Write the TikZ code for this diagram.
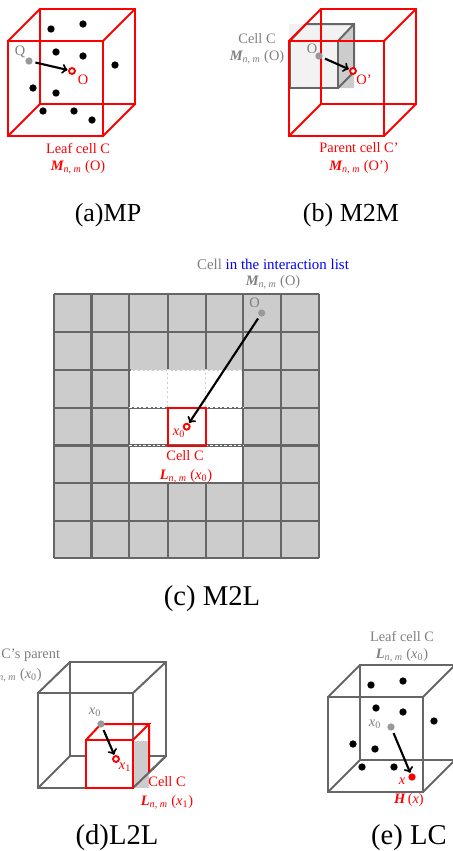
\documentclass[tikz,border=0pt]{standalone}
\usepackage{fontspec}
\setmainfont{Liberation Serif}
\definecolor{cellgray}{HTML}{CCCCCC}
\definecolor{edgegray}{HTML}{666666}
\definecolor{textgray}{HTML}{7F7F7F}
\newcommand{\Mnm}{{\bfseries\itshape M}\textsubscript{\itshape n, m}}
\newcommand{\Lnm}{{\bfseries\itshape L}\textsubscript{\itshape n, m}}
\newcommand{\xzero}{\textit{x}\textsubscript{0}}
\newcommand{\xone}{\textit{x}\textsubscript{1}}
\tikzset{
  redcube/.style={draw=red, line width=1.5pt},
  graycube/.style={draw=edgegray, line width=1.5pt},
  gridline/.style={draw=edgegray, line width=1.6pt},
  whitedash/.style={draw=white, dashed, dash pattern=on 2pt off 1.5pt, line width=0.7pt},
  point/.style={circle, fill=black, inner sep=0pt, minimum size=5.5pt},
  graypoint/.style={circle, fill=gray!80, inner sep=0pt, minimum size=5.5pt},
  redring/.style={circle, draw=red, fill=white, line width=1.4pt, inner sep=0pt, minimum size=4.5pt},
  redpoint/.style={circle, fill=red, inner sep=0pt, minimum size=5.5pt},
  lbl/.style={font=\fontsize{10.8}{12}\selectfont, inner sep=0pt},
  caption/.style={font=\fontsize{19.5}{22}\selectfont, inner sep=0pt},
  bigcaption/.style={font=\fontsize{21.5}{24}\selectfont, inner sep=0pt},
  arr/.style={->, line width=1.6pt, black, shorten <=2pt, shorten >=0.5pt}
}
\begin{document}
\begin{tikzpicture}[x=0.75pt, y=-0.75pt]
    \clip (0,0) rectangle (453,851);
    % (a) MP
    \draw[redcube] (8,41) rectangle (103,136);
    \draw[redcube] (40,9) rectangle (135,104);
    \draw[redcube] (8,41) -- (40,9) (103,41) -- (135,9) (8,136) -- (40,104) (103,136) -- (135,104);
    \foreach \px/\py [count=\k] in {51/29, 83/24, 56/52, 83/56, 115/65, 33/88, 56/93, 43/111, 74/111, 92/120}
        \node[point] (a\k) at (\px,\py) {};
    \node[graypoint] (aq) at (29,61) {};
    \node[redring] (ao) at (72,71) {};
    \draw[arr] (aq) -- (ao);
    \node[lbl, text=textgray] (aqt) at (20,52) {Q};
    \node[lbl, text=red] (aot) at (83,80) {O};
    \node[lbl, text=red] (al1) at (78,148) {Leaf cell C};
    \node[lbl, text=red] (al2) at (78,167) {\Mnm{} (O)};
    \node[caption] (acap) at (108,215) {(a)MP};
    % (b) M2M
    \fill[black!5] (289,24) rectangle (354,88);
    \fill[cellgray] (338,41) -- (354,24) -- (354,88) -- (338,88) -- cycle;
    \draw[graycube] (290,41) rectangle (338,88);
    \draw[graycube] (290,41) -- (306,24) -- (354,24) -- (354,72) -- (338,88) (338,41) -- (354,24);
    \draw[redcube] (289,41) rectangle (384,136);
    \draw[redcube] (321,9) rectangle (416,104);
    \draw[redcube] (289,41) -- (321,9) (384,41) -- (416,9) (289,136) -- (321,104) (384,136) -- (416,104);
    \node[graypoint] (bo) at (319,56) {};
    \node[redring] (bp) at (353,71) {};
    \draw[arr] (bo) -- (bp);
    \node[lbl, text=textgray] (bot) at (312,49) {O};
    \node[lbl, text=red] (bpt) at (364,80) {O’};
    \node[lbl, text=textgray] (bc1) at (257,39) {Cell C};
    \node[lbl, text=textgray] (bc2) at (257,57) {\Mnm{} (O)};
    \node[lbl, text=red] (bl1) at (359,148) {Parent cell C’};
    \node[lbl, text=red] (bl2) at (359,167) {\Mnm{} (O’)};
    \node[caption] (bcap) at (351,215) {(b) M2M};
    % (c) M2L
    \fill[cellgray] (53.7,294.3) rectangle (318.7,558.3);
    \fill[white] (129.3,370.1) rectangle (243.3,483.1);
    \foreach \gx in {53.7,91.5,129.3,167.7,205.7,243.3,281,318.7}
        \draw[gridline] (\gx,294.3) -- (\gx,558.3);
    \foreach \gy in {294.3,332.1,370.1,407.7,445.5,483.1,520.7,558.3}
        \draw[gridline] (53.7,\gy) -- (318.7,\gy);
    % top and bottom rows of the white block keep faint lines only
    \fill[white] (130.5,369) rectangle (242.1,406.6);
    \fill[white] (130.5,446.6) rectangle (242.1,482);
    \draw[cellgray, line width=1pt] (130.5,370.1) -- (242.1,370.1) (167.7,370.1) -- (167.7,406.6) (205.7,370.1) -- (205.7,406.6);
    \draw[whitedash] (130.5,370.1) -- (242.1,370.1) (167.7,370.1) -- (167.7,406.6) (205.7,370.1) -- (205.7,406.6);
    \draw[whitedash] (129.3,407.7) -- (167.7,407.7) (205.7,407.7) -- (243.3,407.7);
    \draw[whitedash] (129.3,445.5) -- (167.7,445.5) (205.7,445.5) -- (243.3,445.5);
    \draw[redcube] (167.7,407.7) rectangle (205.7,445.5);
    \node[graypoint] (co) at (261.7,313) {};
    \node[redring] (cx) at (186.7,426.7) {};
    \draw[arr] (co) -- (cx);
    \node[lbl, text=textgray] (cot) at (254.5,303) {O};
    \node[lbl, text=red] (cxt) at (179,433) {\xzero};
    \node[lbl, font=\fontsize{11.2}{12}\selectfont] (ct1) at (273,264) {\textcolor{textgray}{Cell} \textcolor{blue}{in the interaction list}};
    \node[lbl, text=textgray] (ct2) at (273,282) {\Mnm{} (O)};
    \node[lbl, text=red] (cc1) at (185,456) {Cell C};
    \node[lbl, text=red] (cc2) at (186,476) {\Lnm{} (\xzero)};
    \node[bigcaption] (ccap) at (212,599) {(c) M2L};
    % (d) L2L
    \draw[graycube] (38,693) rectangle (133,788);
    \draw[graycube] (70,662) rectangle (166,756);
    \draw[graycube] (38,693) -- (70,662) (133,693) -- (166,662) (38,788) -- (70,756) (133,788) -- (166,756);
    \fill[cellgray] (134,741) rectangle (149,788);
    \fill[white] (86,740) rectangle (133,788);
    \draw[graycube] (133,788) -- (166,756);
    \draw[redcube] (86,740) rectangle (133,788);
    \draw[redcube] (86,740) -- (101,724) -- (149,724) -- (133,740) (149,724) -- (149,772);
    \node[graypoint] (dx) at (101,724) {};
    \node[redring] (dy) at (116,759) {};
    \draw[arr] (dx) -- (dy);
    \node[lbl, text=textgray] (dxt) at (95,712) {\xzero};
    \node[lbl, text=red] (dyt) at (125,767) {\xone};
    \node[lbl, text=textgray, anchor=west] (dp1) at (1,655) {C’s parent};
    \node[lbl, text=textgray, anchor=east] (dp2) at (42,675) {\textsubscript{\itshape n, m} (\xzero)};
    \node[lbl, text=red] (dc1) at (167,782) {Cell C};
    \node[lbl, text=red] (dc2) at (167,802) {\Lnm{} (\xone)};
    \node[bigcaption] (dcap) at (117,838) {(d)L2L};
    % (e) LC
    \draw[graycube] (328,697) rectangle (423,792);
    \draw[graycube] (360,665) rectangle (455,760);
    \draw[graycube] (328,697) -- (360,665) (423,697) -- (455,665) (328,792) -- (360,760) (423,792) -- (455,760);
    \foreach \px/\py [count=\k] in {371/685, 403/681, 376/708, 403/712, 434/721, 353/744, 375/749, 362/767, 394/767}
        \node[point] (e\k) at (\px,\py) {};
    \node[graypoint] (ex) at (391,727) {};
    \node[redpoint] (ey) at (412,777) {};
    \draw[arr] (ex) -- (ey);
    \node[lbl, text=textgray] (ext) at (375,724) {\xzero};
    \node[lbl, text=red] (eyt) at (402,781) {\textit{x}};
    \node[lbl, text=textgray] (el1) at (402,636) {Leaf cell C};
    \node[lbl, text=textgray] (el2) at (402,655) {\Lnm{} (\xzero)};
    \node[lbl, text=red] (eh) at (409,800) {{\bfseries\itshape H}\,(\textit{x})};
    \node[bigcaption] (ecap) at (409,838) {(e) LC};
\end{tikzpicture}
\end{document}
